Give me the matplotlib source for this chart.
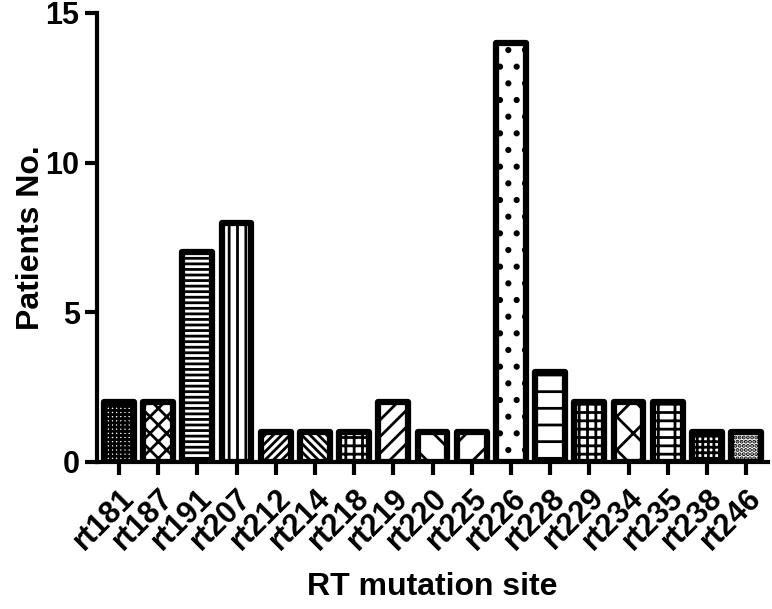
import matplotlib; matplotlib.use('Agg')
import matplotlib.pyplot as pl
import numpy as np

sites = ['rt181', 'rt187', 'rt191', 'rt207', 'rt212', 'rt214', 'rt218', 'rt219', 'rt220',
         'rt225', 'rt226', 'rt228', 'rt229', 'rt234', 'rt235', 'rt238', 'rt246']
patients = [2, 2, 7, 8, 1, 1, 1, 2, 1, 1, 14, 3, 2, 2, 2, 1, 1]
hatches = ['++++', 'xx', '---', '||', '////', '\\\\\\\\', '++', '//', '\\', '/',
           '.', '-', '++', 'x', '+-', '+++', '....']

pl.rcParams['font.family'] = ['Liberation Sans', 'DejaVu Sans']
pl.rcParams['font.weight'] = 'bold'
pl.rcParams['hatch.linewidth'] = 2.0

fig = pl.figure(figsize=(7.72, 6.09), dpi=100)
ax = fig.add_axes([0.1256, 0.2414, 0.8694, 0.7373])

x = np.arange(len(sites))
bars = ax.bar(x, patients, width=0.76, color='white', edgecolor='black', linewidth=4.5,
              joinstyle='round', zorder=3)
for b, h in zip(bars, hatches):
    b.set_hatch(h)

ax.set_xlim(-0.56, 16.56)
ax.set_ylim(0, 15)
ax.set_yticks([0, 5, 10, 15])
ax.set_xticks(x)
ax.set_xticklabels(sites, rotation=45, ha='right', rotation_mode='anchor')

for s in ['top', 'right']:
    ax.spines[s].set_visible(False)
for s in ['left', 'bottom']:
    ax.spines[s].set_linewidth(3)
ax.tick_params(axis='both', width=3, length=9, labelsize=22)
ax.tick_params(axis='x', pad=6)

ax.set_xlabel('RT mutation site', fontsize=23, fontweight='bold', labelpad=12)
ax.set_ylabel('Patients No.', fontsize=23, fontweight='bold', labelpad=0)

fig.savefig('out.png', dpi=100)
